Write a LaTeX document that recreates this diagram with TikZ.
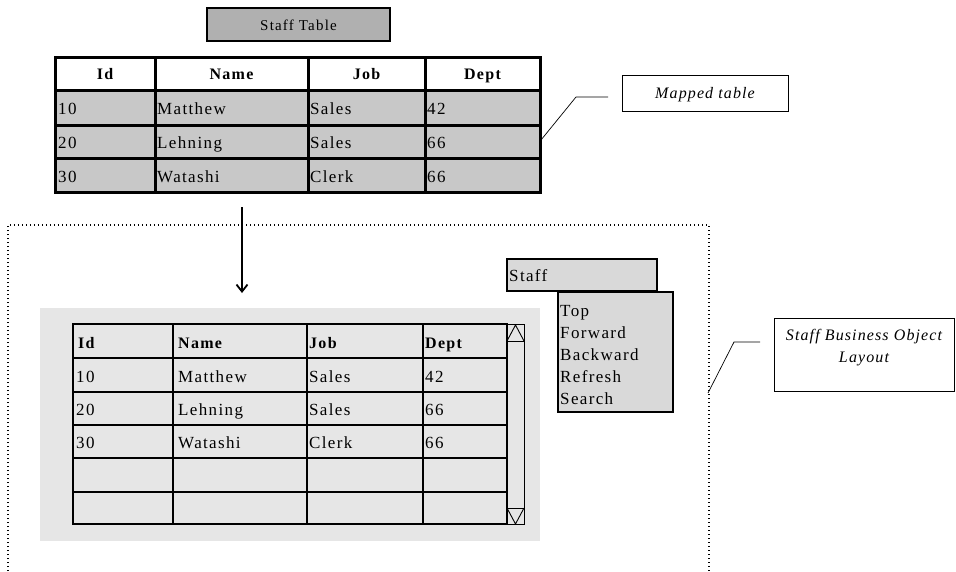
\documentclass[tikz,border=0pt]{standalone}
\usepackage{fontspec}
\setmainfont{Liberation Serif}
\newfontfamily\cellfont[LetterSpace=8]{Liberation Serif}
\newfontfamily\notefont[LetterSpace=7]{Liberation Serif}
\usetikzlibrary{arrows.meta}
\definecolor{cellgray}{HTML}{C8C8C8}
\definecolor{titlegray}{HTML}{B0B0B0}
\definecolor{panelgray}{HTML}{E6E6E6}
\definecolor{menugray}{HTML}{D9D9D9}
\tikzset{
  celltext/.style={anchor=base west,inner sep=0pt,font=\cellfont\fontsize{17}{19}\selectfont},
  headtext/.style={anchor=base,inner sep=0pt,font=\cellfont\bfseries\fontsize{16}{18}\selectfont},
  headleft/.style={anchor=base west,inner sep=0pt,font=\cellfont\bfseries\fontsize{16}{18}\selectfont},
  calloutbox/.style={draw,line width=1pt,fill=white,inner sep=0pt},
  callouttext/.style={inner sep=0pt,align=center,font=\notefont\itshape\fontsize{16}{22}\selectfont},
  leader/.style={line width=0.7pt},
  menutext/.style={anchor=base west,inner sep=0pt,font=\cellfont\fontsize{17}{19}\selectfont},
}
\begin{document}
\begin{tikzpicture}[x=1pt,y=-1pt]
\useasboundingbox (0,0) rectangle (956,571);

% ---------- title ----------
\draw[line width=2pt,fill=titlegray] (207,8) rectangle (390,41);
\node[anchor=base,inner sep=0pt,font=\cellfont\fontsize{15}{17}\selectfont] (title) at (298.5,30) {Staff Table};

% ---------- source table ----------
\fill[white] (55,57) rectangle (540,90);
\fill[cellgray] (55,90) rectangle (540,192);
\draw[line width=3pt] (55,57) rectangle (540,192);
\foreach \x in {155,308,425} \draw[line width=3pt] (\x,57) -- (\x,192);
\foreach \y in {90,125,158} \draw[line width=3pt] (55,\y) -- (540,\y);
\node[headtext] (h1) at (105,79.5) {Id};
\node[headtext] (h2) at (231.5,79.5) {Name};
\node[headtext] (h3) at (366.5,79.5) {Job};
\node[headtext] (h4) at (482.5,79.5) {Dept};
\node[celltext] (a1) at (58,114) {10};
\node[celltext] (a2) at (157,114) {Matthew};
\node[celltext] (a3) at (310,114) {Sales};
\node[celltext] (a4) at (427,114) {42};
\node[celltext] (b1) at (58,148) {20};
\node[celltext] (b2) at (157,148) {Lehning};
\node[celltext] (b3) at (310,148) {Sales};
\node[celltext] (b4) at (427,148) {66};
\node[celltext] (c1) at (58,182) {30};
\node[celltext] (c2) at (157,182) {Watashi};
\node[celltext] (c3) at (310,182) {Clerk};
\node[celltext] (c4) at (427,182) {66};

% ---------- mapped table callout ----------
\node[calloutbox,minimum width=166pt,minimum height=36pt] (mapped) at (705,93) {};
\node[callouttext,anchor=base] (mappedtxt) at (705,98) {Mapped table};
\coordinate (mapA) at (541,140);
\coordinate (mapB) at (576,97);
\coordinate (mapC) at (608,97);
\draw[leader] (mapA) -- (mapB) -- (mapC);

% ---------- mapping arrow ----------
\coordinate (arrtop) at (242,207);
\coordinate (arrbot) at (242,293);
\draw[line width=1.8pt,-{Straight Barb[length=7pt,width=11pt,line width=1.8pt]}] (arrtop) -- (arrbot);

% ---------- business object frame ----------
\draw[line width=1.3pt,dash pattern=on 1.3pt off 2.7pt] (8,571) -- (8,225) -- (709,225) -- (709,571);

% ---------- layout panel ----------
\fill[panelgray] (40,308) rectangle (540,541);
\draw[line width=1.5pt] (73,324) rectangle (507,524);
\foreach \x in {173,307,423} \draw[line width=2pt] (\x,324) -- (\x,524);
\foreach \y in {358,392,425,458,492} \draw[line width=1.5pt] (73,\y) -- (507,\y);
\draw[line width=2pt] (507,324) -- (507,524);
\foreach \ya/\yb in {324/358,358/392,392/425,425/458}
  \draw[line width=2.6pt] (73,\ya) rectangle (173,\yb);
% scroll bar
\draw[line width=0.9pt] (507,324) rectangle (524,524);
\draw[line width=0.9pt] (507,341) -- (524,341);
\draw[line width=0.9pt] (507,341) -- (515.5,325) -- (524,341);
\draw[line width=0.9pt] (507,508) -- (524,508);
\draw[line width=0.9pt] (507,508) -- (515.5,524) -- (524,508);

\node[headleft] (g1) at (78,348) {Id};
\node[headleft] (g2) at (178,348) {Name};
\node[headleft] (g3) at (309,348) {Job};
\node[headleft] (g4) at (425,348) {Dept};
\node[celltext] (d1) at (76,382) {10};
\node[celltext] (d2) at (178,382) {Matthew};
\node[celltext] (d3) at (309,382) {Sales};
\node[celltext] (d4) at (425,382) {42};
\node[celltext] (e1) at (76,415) {20};
\node[celltext] (e2) at (178,415) {Lehning};
\node[celltext] (e3) at (309,415) {Sales};
\node[celltext] (e4) at (425,415) {66};
\node[celltext] (f1) at (76,448) {30};
\node[celltext] (f2) at (178,448) {Watashi};
\node[celltext] (f3) at (309,448) {Clerk};
\node[celltext] (f4) at (425,448) {66};

% ---------- menu ----------
\draw[line width=1.2pt,fill=menugray] (507,259) rectangle (657,291);
\node[menutext] (menuhead) at (509,281) {Staff};
\draw[line width=1.2pt,fill=menugray] (558,292) rectangle (673,412);
\node[menutext] (m1) at (560,316) {Top};
\node[menutext] (m2) at (560,338) {Forward};
\node[menutext] (m3) at (560,360) {Backward};
\node[menutext] (m4) at (560,382) {Refresh};
\node[menutext] (m5) at (560,404) {Search};

% ---------- layout callout ----------
\node[calloutbox,minimum width=180pt,minimum height=73pt] (layout) at (864,354.5) {};
\node[callouttext,anchor=north] (layouttxt) at (864,329) {Staff Business Object\\Layout};
\coordinate (layA) at (708,393);
\coordinate (layB) at (734,342);
\coordinate (layC) at (760,342);
\draw[leader] (layA) -- (layB) -- (layC);
\end{tikzpicture}
\end{document}
